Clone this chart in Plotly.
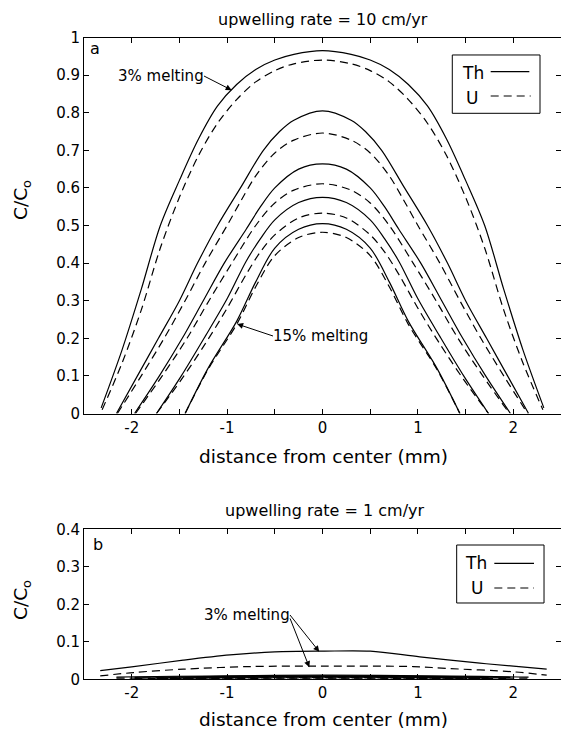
import plotly.graph_objects as go

# ---------------- data ----------------
# Panel a (upwelling rate = 10 cm/yr): right half of each symmetric profile
# x = distance from center (mm), v = C/Co ; listed from 3% melting (outer) to 15% melting (inner)
th_a_x = [
    [0, 0.3, 0.5, 0.7, 0.9, 1.1, 1.3, 1.5, 1.7, 1.9, 2.1, 2.32],
    [0, 0.3, 0.45, 0.62, 0.86, 1.1, 1.31, 1.5, 1.72, 1.94, 2.16],
    [0, 0.25, 0.5, 0.65, 0.8, 1.03, 1.25, 1.47, 1.71, 1.97],
    [0, 0.25, 0.5, 0.65, 0.8, 1.0, 1.23, 1.48, 1.74],
    [0, 0.25, 0.5, 0.7, 0.9, 1.2, 1.44],
]
th_a_v = [
    [0.965, 0.955, 0.94, 0.915, 0.875, 0.818, 0.73, 0.62, 0.5, 0.33, 0.17, 0.015],
    [0.805, 0.78, 0.75, 0.7, 0.6, 0.5, 0.4, 0.3, 0.2, 0.1, 0.0],
    [0.664, 0.65, 0.6, 0.55, 0.49, 0.4, 0.3, 0.2, 0.1, 0.0],
    [0.575, 0.561, 0.515, 0.465, 0.405, 0.305, 0.205, 0.1, 0.0],
    [0.505, 0.49, 0.44, 0.35, 0.245, 0.12, 0.0],
]
u_a_x = [
    [0, 0.3, 0.5, 0.7, 0.9, 1.1, 1.3, 1.5, 1.7, 1.9, 2.1, 2.31],
    [0, 0.3, 0.5, 0.7, 0.85, 1.0, 1.23, 1.44, 1.66, 1.9, 2.15],
    [0, 0.3, 0.5, 0.7, 0.95, 1.19, 1.42, 1.68, 1.96],
    [0, 0.25, 0.5, 0.65, 0.8, 1.0, 1.23, 1.48, 1.74],
    [0, 0.25, 0.5, 0.7, 0.9, 1.2, 1.44],
]
u_a_v = [
    [0.94, 0.93, 0.912, 0.882, 0.835, 0.772, 0.686, 0.575, 0.44, 0.275, 0.135, 0.01],
    [0.746, 0.727, 0.693, 0.632, 0.568, 0.5, 0.4, 0.3, 0.2, 0.1, 0.0],
    [0.611, 0.594, 0.56, 0.5, 0.4, 0.3, 0.2, 0.1, 0.0],
    [0.533, 0.52, 0.475, 0.43, 0.37, 0.28, 0.185, 0.09, 0.0],
    [0.482, 0.468, 0.42, 0.337, 0.237, 0.117, 0.0],
]

# Panel b (upwelling rate = 1 cm/yr)
th_b3_x = [-2.33, -2.0, -1.46, -0.97, -0.5, 0, 0.5, 1.02, 1.65, 2.0, 2.35]
th_b3_v = [0.023, 0.033, 0.051, 0.065, 0.073, 0.075, 0.075, 0.06, 0.043, 0.035, 0.027]
u_b3_x = [-2.33, -1.98, -1.46, -0.76, 0, 0.95, 1.3, 2.0, 2.35]
u_b3_v = [0.009, 0.018, 0.027, 0.034, 0.035, 0.034, 0.029, 0.02, 0.011]
# higher melting curves in panel b lie almost on zero
low_b_edge = [2.16, 1.97, 1.74, 1.44]
low_b_th_peak = [0.011, 0.009, 0.008, 0.007]
low_b_th_end = [0.006, 0.005, 0.005, 0.004]
low_b_u_peak = [0.005, 0.004, 0.004, 0.003]
low_b_u_end = [0.003, 0.002, 0.002, 0.002]

x_ticks = [-2, -1, 0, 1, 2]
x_ticktext = ["-2", "-1", "0", "1", "2"]
x_minor = [-2.5, -1.5, -0.5, 0.5, 1.5, 2.5]
ya_ticks = [0, 0.1, 0.2, 0.3, 0.4, 0.5, 0.6, 0.7, 0.8, 0.9, 1]
ya_ticktext = ["0", "0.1", "0.2", "0.3", "0.4", "0.5", "0.6", "0.7", "0.8", "0.9", "1"]
yb_ticks = [0, 0.1, 0.2, 0.3, 0.4]
yb_ticktext = ["0", "0.1", "0.2", "0.3", "0.4"]

# ---------------- figure ----------------
FONT = "DejaVu Sans"
W, H = 561, 731
ML = 84
DASH = "8px,5px"
LW = 1.2
SPL = dict(shape="spline", smoothing=0.9)


def mirror(xh, vh):
    xs = [-x for x in reversed(xh[1:])] + list(xh)
    vs = list(reversed(vh[1:])) + list(vh)
    return xs, vs


fig = go.Figure()

for xh, vh in zip(th_a_x, th_a_v):
    xs, vs = mirror(xh, vh)
    fig.add_trace(go.Scatter(x=xs, y=vs, mode="lines", xaxis="x", yaxis="y",
                             line=dict(color="black", width=LW, **SPL),
                             showlegend=False, hoverinfo="skip"))
for xh, vh in zip(u_a_x, u_a_v):
    xs, vs = mirror(xh, vh)
    fig.add_trace(go.Scatter(x=xs, y=vs, mode="lines", xaxis="x", yaxis="y",
                             line=dict(color="black", width=LW, dash=DASH, **SPL),
                             showlegend=False, hoverinfo="skip"))

fig.add_trace(go.Scatter(x=th_b3_x, y=th_b3_v, mode="lines", xaxis="x2", yaxis="y2",
                         line=dict(color="black", width=LW, **SPL),
                         showlegend=False, hoverinfo="skip"))
fig.add_trace(go.Scatter(x=u_b3_x, y=u_b3_v, mode="lines", xaxis="x2", yaxis="y2",
                         line=dict(color="black", width=LW, dash=DASH, **SPL),
                         showlegend=False, hoverinfo="skip"))
for e, pk, en in zip(low_b_edge, low_b_th_peak, low_b_th_end):
    fig.add_trace(go.Scatter(x=[-e, 0, e], y=[en, pk, en], mode="lines", xaxis="x2", yaxis="y2",
                             line=dict(color="black", width=LW, shape="spline"),
                             showlegend=False, hoverinfo="skip"))
for e, pk, en in zip(low_b_edge, low_b_u_peak, low_b_u_end):
    fig.add_trace(go.Scatter(x=[-e, 0, e], y=[en, pk, en], mode="lines", xaxis="x2", yaxis="y2",
                             line=dict(color="black", width=LW, dash=DASH, shape="spline"),
                             showlegend=False, hoverinfo="skip"))

# pixel helpers for layout positions
def py(pix):
    return (H - pix) / H

def px(pix):
    return (pix - ML) / (W - ML)

top_dom = [py(413.5), py(37.5)]
bot_dom = [py(679.3), py(529.3)]

axis_common = dict(ticks="inside", ticklen=5, tickwidth=1, tickcolor="black",
                   showline=True, linecolor="black", linewidth=1, mirror="ticks",
                   showgrid=False, zeroline=False, automargin=False,
                   tickfont=dict(family=FONT, size=15, color="black"))
xminor = dict(tickvals=x_minor, ticks="inside", ticklen=5, tickwidth=1,
              tickcolor="black", showgrid=False)

fig.update_layout(
    width=W, height=H,
    margin=dict(l=ML, r=0, t=0, b=0, pad=0),
    paper_bgcolor="white", plot_bgcolor="white",
    font=dict(family=FONT, color="black"),
    xaxis=dict(domain=[0, 1], range=[-2.5, 2.5], anchor="y",
               tickvals=x_ticks, ticktext=x_ticktext, minor=xminor, **axis_common),
    yaxis=dict(domain=top_dom, range=[0, 1], anchor="x",
               tickvals=ya_ticks, ticktext=ya_ticktext, **axis_common),
    xaxis2=dict(domain=[0, 1], range=[-2.5, 2.5], anchor="y2",
                tickvals=x_ticks, ticktext=x_ticktext, minor=xminor, **axis_common),
    yaxis2=dict(domain=bot_dom, range=[0, 0.4], anchor="x2",
                tickvals=yb_ticks, ticktext=yb_ticktext, **axis_common),
)

ann = []
def text(x, y, s, size, **kw):
    d = dict(x=x, y=y, xref="paper", yref="paper", text=s, showarrow=False,
             font=dict(family=FONT, size=size, color="black"),
             xanchor="center", yanchor="middle")
    d.update(kw)
    ann.append(d)

# titles
text(px(323), py(19), "upwelling rate = 10 cm/yr", 16)
text(px(323), py(457), "distance from center (mm)", 18.5)
text(px(325), py(510), "upwelling rate = 1 cm/yr", 16)
text(px(323), py(719), "distance from center (mm)", 18.5)
text(px(22), py(200), "C/C<sub>o</sub>", 18.5, textangle=-90)
text(px(22), py(600), "C/C<sub>o</sub>", 18.5, textangle=-90)
# panel letters
text(px(95), py(48), "a", 16)
text(px(98), py(544), "b", 16)


def to_x(pix):
    return (pix - 322.5) / 95.4

def to_ya(pix):
    return (413.5 - pix) / 376.0

def to_yb(pix):
    return (679.3 - pix) / 375.0

# labelled arrows (text box edge sits at the arrow tail)
def label_arrow(s, xh, yh, xt, yt, xr, yr, xa):
    ann.append(dict(x=xh, y=yh, ax=xt, ay=yt, xref=xr, yref=yr, axref=xr, ayref=yr,
                    text=s, showarrow=True, arrowhead=2, arrowsize=1.2, arrowwidth=1,
                    arrowcolor="black", standoff=0, xanchor=xa, yanchor="middle",
                    borderpad=0, borderwidth=0,
                    font=dict(family=FONT, size=15, color="black")))

label_arrow("3% melting", -0.952, 0.860, to_x(204), to_ya(76), "x", "y", "right")
label_arrow("15% melting", -0.895, 0.238, to_x(273), to_ya(336), "x", "y", "left")
label_arrow("3% melting", -0.034, 0.0736, to_x(290), to_yb(615), "x2", "y2", "right")

# second arrow of the panel-b label
ann.append(dict(x=-0.138, y=0.032, ax=to_x(289.5), ay=to_yb(617), xref="x2", yref="y2",
                axref="x2", ayref="y2", text="", showarrow=True, arrowhead=2,
                arrowsize=1.2, arrowwidth=1, arrowcolor="black", standoff=0))

# legends (text, then line sample)
shapes = []
def legend(xr, yr, box, th_xy, u_xy, lsolid, ldash):
    shapes.append(dict(type="rect", xref=xr + " domain", yref=yr + " domain",
                       x0=box[0], x1=box[1], y0=box[2], y1=box[3],
                       line=dict(color="black", width=1), fillcolor="white", layer="above"))
    shapes.append(dict(type="line", xref=xr + " domain", yref=yr + " domain",
                       x0=lsolid[0], x1=lsolid[1], y0=lsolid[2], y1=lsolid[2],
                       line=dict(color="black", width=LW), layer="above"))
    shapes.append(dict(type="line", xref=xr + " domain", yref=yr + " domain",
                       x0=ldash[0], x1=ldash[1], y0=ldash[2], y1=ldash[2],
                       line=dict(color="black", width=LW, dash=DASH), layer="above"))
    for (tx, ty), s in ((th_xy, "Th"), (u_xy, "U")):
        ann.append(dict(x=tx, y=ty, xref=xr + " domain", yref=yr + " domain", text=s,
                        showarrow=False, xanchor="center", yanchor="middle",
                        font=dict(family=FONT, size=17, color="black")))

legend("x", "y", (0.7721, 0.956, 0.7984, 0.9535), (0.8145, 0.9056), (0.814, 0.8391),
       (0.8526, 0.9336, 0.909), (0.8526, 0.9365, 0.8444))
legend("x2", "y2", (0.7813, 0.9644, 0.5087, 0.8953), (0.8218, 0.7753), (0.8239, 0.6067),
       (0.8602, 0.9434, 0.7733), (0.8602, 0.9434, 0.6087))

fig.update_layout(annotations=ann, shapes=shapes)
fig.write_html("out.html", config={"displayModeBar": False},
               post_script="document.body.style.margin='0';"
                           "document.documentElement.style.overflow='hidden';")
